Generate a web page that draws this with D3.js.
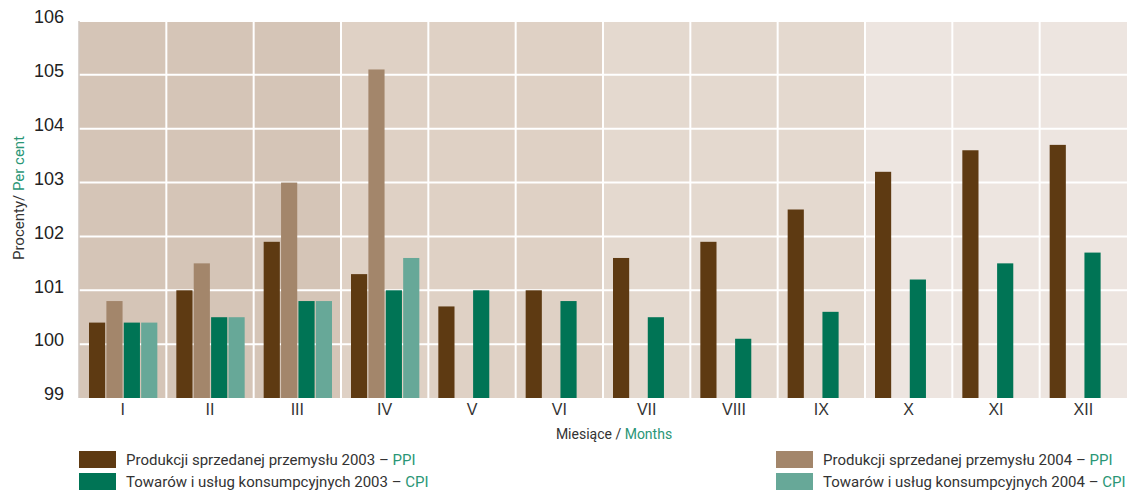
<!DOCTYPE html>
<html>
<head>
<meta charset="utf-8">
<script src="https://cdn.jsdelivr.net/npm/d3@7"></script>
<style>
  body { margin: 0; background: #fff; }
  svg { display: block; font-family: Roboto, "Open Sans", sans-serif; }
</style>
</head>
<body>
<div id="chart"></div>
<script>
const months = ["I", "II", "III", "IV", "V", "VI", "VII", "VIII", "IX", "X", "XI", "XII"];
const ppi2003 = [100.4, 101.0, 101.9, 101.3, 100.7, 101.0, 101.6, 101.9, 102.5, 103.2, 103.6, 103.7];
const ppi2004 = [100.8, 101.5, 103.0, 105.1, null, null, null, null, null, null, null, null];
const cpi2003 = [100.4, 100.5, 100.8, 101.0, 101.0, 100.8, 100.5, 100.1, 100.6, 101.2, 101.5, 101.7];
const cpi2004 = [100.4, 100.5, 100.8, 101.6, null, null, null, null, null, null, null, null];
const yTicks = [99, 100, 101, 102, 103, 104, 105, 106];

const series = [
  { key: "ppi2003", values: ppi2003, color: "#5e3a12", label: "Produkcji sprzedanej przemysłu 2003 – ", tag: "PPI" },
  { key: "ppi2004", values: ppi2004, color: "#a3866b", label: "Produkcji sprzedanej przemysłu 2004 – ", tag: "PPI" },
  { key: "cpi2003", values: cpi2003, color: "#007455", label: "Towarów i usług konsumpcyjnych 2003 – ", tag: "CPI" },
  { key: "cpi2004", values: cpi2004, color: "#67a898", label: "Towarów i usług konsumpcyjnych 2004 – ", tag: "CPI" }
];
const quarterFill = ["#d5c5b7", "#dfd1c5", "#e4d9cf", "#ede5e0"];

const width = 1127, height = 492;
const margin = { top: 21, right: 0, bottom: 94, left: 79 };
const iw = width - margin.left - margin.right;
const ih = height - margin.top - margin.bottom;

const svg = d3.select("#chart").append("svg")
  .attr("width", width).attr("height", height);
const g = svg.append("g").attr("transform", `translate(${margin.left},${margin.top})`);

const x = d3.scaleBand().domain(months).range([0, iw]);
const xs = d3.scaleBand().domain(series.map(s => s.key)).range([10, x.bandwidth() - 9]).paddingInner(0.07);
const y = d3.scaleLinear().domain([99, 106]).range([ih, 0]);

// quarter backgrounds
g.selectAll("rect.bg").data(months).join("rect")
  .attr("class", "bg")
  .attr("x", d => x(d)).attr("y", 0)
  .attr("width", x.bandwidth() + 0.5).attr("height", ih)
  .attr("fill", (d, i) => quarterFill[Math.floor(i / 3)]);

// grid
g.selectAll("line.hg").data(yTicks.slice(1)).join("line")
  .attr("x1", 0).attr("x2", iw)
  .attr("y1", d => y(d)).attr("y2", d => y(d))
  .attr("stroke", "#fff").attr("stroke-width", 2);
g.selectAll("line.vg").data(months.slice(1)).join("line")
  .attr("x1", d => x(d)).attr("x2", d => x(d))
  .attr("y1", 0).attr("y2", ih)
  .attr("stroke", "#fff").attr("stroke-width", 2);
g.append("line").attr("x1", 0).attr("x2", 0).attr("y1", 0).attr("y2", ih)
  .attr("stroke", "#cfc6bf").attr("stroke-width", 1.5);

// bars
series.forEach(s => {
  g.append("g").selectAll("rect").data(months.map((m, i) => ({ m, v: s.values[i] })).filter(d => d.v != null))
    .join("rect")
    .attr("x", d => x(d.m) + xs(s.key))
    .attr("width", xs.bandwidth())
    .attr("y", d => y(d.v))
    .attr("height", d => y(99) - y(d.v))
    .attr("fill", s.color);
});

// y axis
const yAxis = g.append("g").call(d3.axisLeft(y).tickValues(yTicks).tickFormat(d3.format("d")).tickSize(0).tickPadding(15));
yAxis.select(".domain").remove();
yAxis.selectAll("text").attr("font-size", 18).attr("fill", "#222").attr("dy", "0.1em");

// x axis
const xAxis = g.append("g").attr("transform", `translate(0,${ih})`)
  .call(d3.axisBottom(x).tickSize(0).tickPadding(6));
xAxis.select(".domain").remove();
xAxis.selectAll("text").attr("font-size", 16).attr("fill", "#333");

// axis titles
const yt = svg.append("text")
  .attr("transform", `translate(24,198) rotate(-90)`)
  .attr("text-anchor", "middle").attr("font-size", 15).attr("fill", "#333");
yt.append("tspan").text("Procenty/ ");
yt.append("tspan").attr("fill", "#2a9676").text("Per cent");

const xt = svg.append("text")
  .attr("x", 614).attr("y", 439)
  .attr("text-anchor", "middle").attr("font-size", 14).attr("fill", "#333");
xt.append("tspan").text("Miesiące / ");
xt.append("tspan").attr("fill", "#2a9676").text("Months");

// legend
const legendPos = [
  { x: 79, y: 451 }, { x: 776, y: 451 }, { x: 79, y: 473 }, { x: 776, y: 473 }
];
series.forEach((s, i) => {
  const p = legendPos[i];
  const lg = svg.append("g").attr("transform", `translate(${p.x},${p.y})`);
  lg.append("rect").attr("width", 37).attr("height", 17).attr("fill", s.color);
  const t = lg.append("text").attr("x", 47).attr("y", 14).attr("font-size", 15).attr("fill", "#333");
  t.append("tspan").text(s.label);
  t.append("tspan").attr("fill", "#2a9676").text(s.tag);
});
</script>
</body>
</html>
